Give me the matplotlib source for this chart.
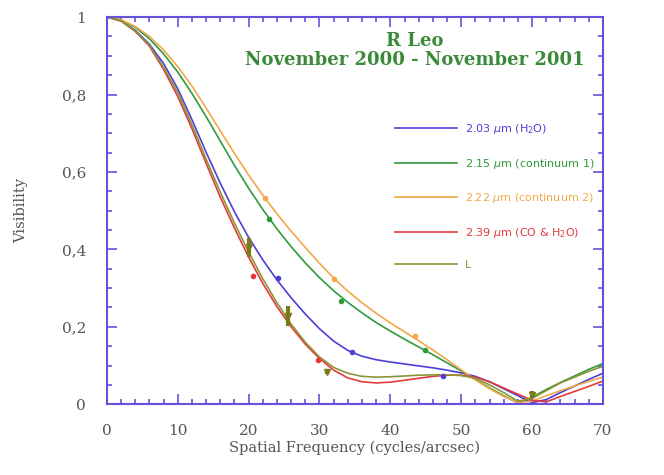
import matplotlib
matplotlib.use("Agg")
import matplotlib.pyplot as plt
from matplotlib.ticker import MultipleLocator, FuncFormatter

# spatial frequency grid (cycles/arcsec) the curves were read at
freq = [0, 2, 4, 6, 8, 10, 12, 14, 16, 18, 20, 22, 24, 26, 28, 30, 32, 34, 36,
        38, 40, 42, 44, 46, 48, 50, 52, 54, 56, 58, 60, 62, 64, 66, 68, 70]

vis_203 = [1.0, 0.991, 0.966, 0.93, 0.88, 0.815, 0.735, 0.651, 0.571, 0.497,
           0.431, 0.373, 0.321, 0.275, 0.233, 0.195, 0.163, 0.139, 0.124, 0.115,
           0.109, 0.104, 0.099, 0.094, 0.088, 0.081, 0.072, 0.058, 0.04, 0.022,
           0.004, 0.012, 0.03, 0.047, 0.064, 0.08]
vis_215 = [1.0, 0.993, 0.974, 0.944, 0.905, 0.858, 0.803, 0.743, 0.68, 0.617,
           0.558, 0.503, 0.453, 0.407, 0.365, 0.327, 0.293, 0.263, 0.236, 0.211,
           0.189, 0.168, 0.148, 0.128, 0.107, 0.086, 0.064, 0.042, 0.022, 0.003,
           0.018, 0.038, 0.056, 0.073, 0.09, 0.105]
vis_222 = [1.0, 0.993, 0.976, 0.95, 0.915, 0.872, 0.822, 0.765, 0.706, 0.648,
           0.592, 0.54, 0.492, 0.447, 0.405, 0.364, 0.326, 0.292, 0.262, 0.235,
           0.21, 0.187, 0.164, 0.14, 0.115, 0.089, 0.063, 0.04, 0.02, 0.004,
           0.008, 0.022, 0.035, 0.047, 0.059, 0.07]
vis_239 = [1.0, 0.99, 0.963, 0.925, 0.865, 0.795, 0.712, 0.622, 0.535, 0.455,
           0.38, 0.312, 0.252, 0.2, 0.155, 0.118, 0.088, 0.068, 0.058, 0.055,
           0.057, 0.062, 0.067, 0.072, 0.075, 0.075, 0.07, 0.058, 0.042, 0.026,
           0.01, 0.006, 0.02, 0.033, 0.046, 0.06]
vis_L = [1.0, 0.99, 0.964, 0.927, 0.87, 0.805, 0.722, 0.633, 0.548, 0.468,
         0.393, 0.324, 0.262, 0.207, 0.16, 0.122, 0.095, 0.08, 0.072, 0.07,
         0.071, 0.073, 0.075, 0.076, 0.076, 0.074, 0.067, 0.05, 0.03, 0.008,
         0.015, 0.035, 0.055, 0.07, 0.085, 0.098]

# measured points
pts_203_x = [24.2, 34.6, 47.5]
pts_203_y = [0.327, 0.135, 0.073]
pts_215_x = [22.9, 33.0, 44.9]
pts_215_y = [0.478, 0.267, 0.14]
pts_222_x = [22.3, 32.0, 43.5]
pts_222_y = [0.534, 0.323, 0.177]
pts_239_x = [20.6, 29.8]
pts_239_y = [0.33, 0.115]
pts_L_x = [20.0, 25.5, 31.1, 60.0]
pts_L_y = [0.405, 0.228, 0.084, 0.025]
pts_L_err = [0.025, 0.027, 0.005, 0.008]

labels = [r'2.03 $\mu$m (H$_2$O)', r'2.15 $\mu$m (continuum 1)',
          r'2.22 $\mu$m (continuum 2)', r'2.39 $\mu$m (CO & H$_2$O)', 'L']
colors = ['#4b3fd8', '#2f9a3c', '#f2a848', '#e43a3a', '#8c9436']
frame_col = '#6650dc'
serif = 'DejaVu Serif'

fig = plt.figure(figsize=(6.64, 4.75), dpi=100)
ax = fig.add_axes([0.161, 0.149, 0.747, 0.815])

curves = [vis_203, vis_215, vis_222, vis_239, vis_L]
handles = []
for vis, col, lab in zip(curves, colors, labels):
    h, = ax.plot(freq, vis, color=col, lw=1.2, label=lab)
    handles.append(h)

ax.plot(pts_203_x, pts_203_y, 'o', color=colors[0], ms=3)
ax.plot(pts_215_x, pts_215_y, 'o', color=colors[1], ms=3)
ax.plot(pts_222_x, pts_222_y, 'o', color=colors[2], ms=3)
ax.plot(pts_239_x, pts_239_y, 'o', color=colors[3], ms=3)
ax.errorbar(pts_L_x, pts_L_y, yerr=pts_L_err, fmt='v', color='#7a7a18',
            ms=4, elinewidth=3, capsize=0)

ax.set_xlim(0, 70)
ax.set_ylim(0, 1)
ax.xaxis.set_major_locator(MultipleLocator(10))
ax.xaxis.set_minor_locator(MultipleLocator(2))
ax.yaxis.set_major_locator(MultipleLocator(0.2))
ax.yaxis.set_minor_locator(MultipleLocator(0.05))
ax.yaxis.set_major_formatter(FuncFormatter(lambda v, p: ('%g' % round(v, 2)).replace('.', ',')))

ax.tick_params(which='both', direction='in', top=True, right=True,
               color=frame_col, width=1.2, labelcolor='#555555')
ax.tick_params(which='major', length=7, labelsize=11)
ax.tick_params(axis='x', which='major', pad=14)
ax.tick_params(axis='y', which='major', pad=15)
ax.tick_params(which='minor', length=3.5)
for lab in ax.get_xticklabels() + ax.get_yticklabels():
    lab.set_family(serif)
for sp in ax.spines.values():
    sp.set_color(frame_col)
    sp.set_linewidth(1.5)

ax.set_xlabel('Spatial Frequency (cycles/arcsec)', family=serif,
              fontsize=10.5, color='#555555', labelpad=2)
ax.set_ylabel('Visibility', family=serif, fontsize=10.5,
              color='#555555', labelpad=24)

ax.text(0.62, 0.937, 'R Leo', transform=ax.transAxes, ha='center', va='center',
        family=serif, fontweight='bold', fontsize=13, color='#3a8a3a')
ax.text(0.62, 0.888, 'November 2000 - November 2001', transform=ax.transAxes,
        ha='center', va='center', family=serif, fontweight='bold',
        fontsize=13, color='#3a8a3a')

leg = ax.legend(handles=handles, loc='upper left', bbox_to_anchor=(0.56, 0.755),
                frameon=False, fontsize=8, handlelength=5.6, handletextpad=0.7,
                labelspacing=1.85, labelcolor='linecolor')

fig.savefig('out.png', dpi=100)
